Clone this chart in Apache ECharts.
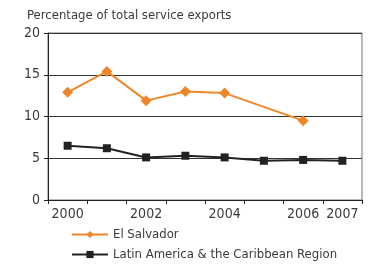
<!DOCTYPE html>
<html>
<head>
<meta charset="utf-8">
<script src="https://cdn.jsdelivr.net/npm/echarts@6/dist/echarts.min.js"></script>
<style>
    html, body { margin: 0; padding: 0; background: #fff; }
    #chart { width: 375px; height: 266px; }
</style>
</head>
<body>
<div id="chart"></div>
<script>
// 数据
var years = ['2000', '2001', '2002', '2003', '2004', '2005', '2006', '2007'];
var shownYears = ['2000', '2002', '2004', '2006', '2007'];
var elSalvador = [12.9, 15.4, 11.9, 13.0, 12.8, null, 9.5, null];
var latinAmerica = [6.5, 6.2, 5.1, 5.3, 5.1, 4.7, 4.8, 4.7];
var yTicks = [0, 5, 10, 15, 20];
var seriesNames = ['El Salvador', 'Latin America & the Caribbean Region'];

var fontName = '"DejaVu Sans Condensed", "Liberation Sans Narrow", sans-serif';

var legendItem = function(name, top) {
    return {
        left: 66,
        top: top,
        itemWidth: 36,
        itemHeight: 9,
        textStyle: {
            fontFamily: fontName,
            fontSize: 13,
            color: '#3a3a3a'
        },
        data: [name]
    };
};

var myChart = echarts.init(document.getElementById('chart'));
var option = {
    animation: false,
    title: {
        text: 'Percentage of total service exports',
        left: 22,
        top: 4,
        textStyle: {
            fontFamily: fontName,
            fontSize: 13,
            fontWeight: 'normal',
            color: '#3a3a3a'
        }
    },
    legend: [legendItem(seriesNames[0], 223), legendItem(seriesNames[1], 243)],
    grid: {
        left: 48,
        right: 13,
        top: 33,
        bottom: 66,
        show: true,
        borderColor: '#777',
        borderWidth: 1
    },
    xAxis: {
        type: 'category',
        data: years,
        boundaryGap: true,
        axisLine: { lineStyle: { color: '#222' } },
        axisTick: { show: true, interval: 0, length: 4, lineStyle: { color: '#222' } },
        axisLabel: {
            interval: 0,
            margin: 7,
            formatter: function(v) {
                return shownYears.indexOf(v) >= 0 ? v : '';
            },
            fontFamily: fontName,
            fontSize: 14,
            color: '#3a3a3a'
        }
    },
    yAxis: {
        type: 'value',
        min: yTicks[0],
        max: yTicks[yTicks.length - 1],
        interval: 5,
        axisLine: { show: true, lineStyle: { color: '#222' } },
        axisTick: { show: true, length: 4, lineStyle: { color: '#222' } },
        axisLabel: {
            margin: 8,
            fontFamily: fontName,
            fontSize: 14,
            color: '#3a3a3a'
        },
        splitLine: { lineStyle: { color: '#333', width: 1 } }
    },
    series: [{
            name: seriesNames[0],
            type: 'line',
            data: elSalvador,
            connectNulls: true,
            symbol: 'diamond',
            symbolSize: 11,
            color: '#f0862a',
            lineStyle: { width: 2 }
        },
        {
            name: seriesNames[1],
            type: 'line',
            data: latinAmerica,
            symbol: 'rect',
            symbolSize: 8,
            color: '#222',
            lineStyle: { width: 2 }
        }
    ]
};
myChart.setOption(option);
</script>
</body>
</html>
